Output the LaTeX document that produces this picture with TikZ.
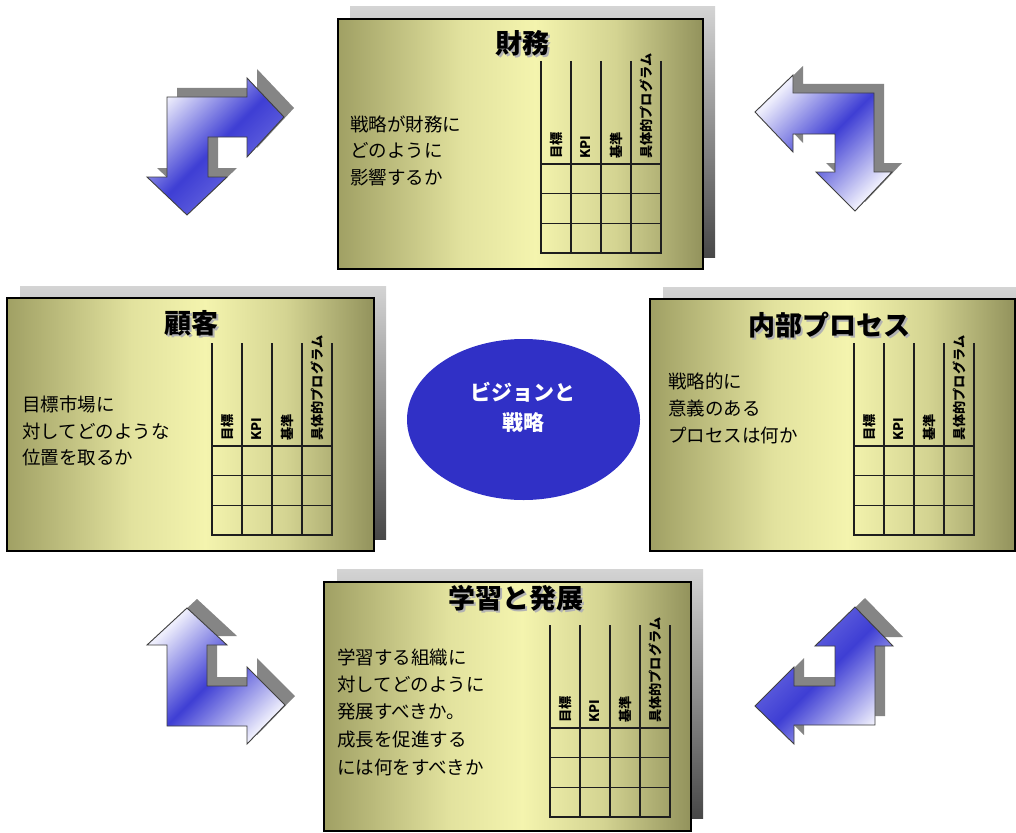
\documentclass[tikz,border=0pt]{standalone}
\usepackage{fontspec}
\setmainfont{Noto Sans CJK JP}
\usetikzlibrary{shapes.geometric}
\definecolor{bxA}{RGB}{160,160,100}
\definecolor{bxB}{RGB}{226,226,158}
\definecolor{bxC}{RGB}{244,244,174}
\definecolor{bxE}{RGB}{212,212,146}
\definecolor{bxD}{RGB}{146,146,92}
\definecolor{aLight}{RGB}{238,238,252}
\definecolor{aBlue}{RGB}{62,62,212}
\definecolor{aMid}{RGB}{122,122,228}
\definecolor{vision}{RGB}{48,48,198}
\definecolor{tline}{RGB}{30,30,30}
\pgfdeclarehorizontalshading{boxshade}{100bp}{color(0bp)=(bxA); color(25bp)=(bxA); color(42bp)=(bxB); color(52bp)=(bxC); color(63bp)=(bxE); color(75bp)=(bxD); color(100bp)=(bxD)}
\pgfdeclarehorizontalshading{arrA}{100bp}{color(0bp)=(aLight); color(25bp)=(aLight); color(50bp)=(aBlue); color(75bp)=(aMid); color(100bp)=(aMid)}
\pgfdeclarehorizontalshading{arrB}{100bp}{color(0bp)=(aLight); color(25bp)=(aLight); color(50bp)=(aBlue); color(75bp)=(aLight); color(100bp)=(aLight)}
\pgfdeclarehorizontalshading{arrC}{100bp}{color(0bp)=(aMid); color(25bp)=(aMid); color(50bp)=(aBlue); color(75bp)=(aLight); color(100bp)=(aLight)}
\tikzset{
  pbox/.style={shade, shading=boxshade, draw=black, line width=1.3pt},
  pshadow/.style={top color=black!17, bottom color=black!72},
  ashadow/.style={fill=black!48},
  arr/.style={shade, shading angle=-45, draw=black!75, line width=0.9pt},
  ttl/.style={font=\fontsize{27}{32}\selectfont\bfseries, inner sep=0pt},
  ttlsh/.style={ttl, text=black!30},
  body/.style={font=\fontsize{18.5}{27}\selectfont, inner sep=0pt, anchor=west},
  hdr/.style={font=\fontsize{13.2}{15}\selectfont\bfseries, inner sep=0pt, rotate=90, anchor=west},
  tl/.style={draw=tline, line width=1.6pt},
}
\newcommand\bsctable[4]{%
  \foreach \i in {0,...,4} \draw[tl] ({#2+30*\i},{#4-103}) -- ({#2+30*\i},{#4+89});
  \foreach \j in {0,...,3} \draw[tl] ({#2-0.8},{#4+29.67*\j}) -- ({#2+120.8},{#4+29.67*\j});
  \node[hdr] (#1h1) at ({#2+15},{#4-5}) {目標};
  \node[hdr] (#1h2) at ({#2+45},{#4-5}) {KPI};
  \node[hdr] (#1h3) at ({#2+75},{#4-5}) {基準};
  \node[hdr] (#1h4) at ({#2+105},{#4-5}) {具体的プログラム};
}
\newcommand\arrTL{(284,117) -- (247,78) -- (247,97) -- (167,97) -- (167,177) -- (147,177) -- (187,215) -- (227,177) -- (208,177) -- (208,137) -- (247,137) -- (247,157) -- cycle}
\newcommand\arrTR{(755,112) -- (793,75) -- (793,93) -- (874,93) -- (874,172) -- (892,172) -- (855,211) -- (816,172) -- (835,172) -- (835,134) -- (793,134) -- (793,152) -- cycle}
\newcommand\arrBL{(187,608) -- (227,645) -- (207,645) -- (207,686) -- (247,686) -- (247,667) -- (285,705) -- (247,744) -- (247,726) -- (167,726) -- (167,645) -- (147,645) -- cycle}
\newcommand\arrBR{(855,607) -- (893,646) -- (875,646) -- (875,725) -- (794,725) -- (794,744) -- (755,706) -- (794,667) -- (794,686) -- (835,686) -- (835,646) -- (815,646) -- cycle}
\begin{document}
\begin{tikzpicture}[x=1pt,y=-1pt]
\useasboundingbox (0,0) rectangle (1016,832);
\clip (0,0) rectangle (1016,832);
\fill[white] (0,0) rectangle (1016,832);

% ---- corner arrows ----
\fill[ashadow, shift={(10,-9)}] \arrTL;
\path[arr, shading=arrA] \arrTL;
\fill[ashadow, shift={(10,-9)}] \arrTR;
\path[arr, shading=arrB] \arrTR;
\fill[ashadow, shift={(10,-9)}] \arrBL;
\path[arr, shading=arrB] \arrBL;
\fill[ashadow, shift={(10,-9)}] \arrBR;
\path[arr, shading=arrC] \arrBR;

% ---- top box: finance ----
\shade[pshadow] (350,7) rectangle (715,257);
\draw[pbox] (338,19) rectangle (703,269);
\node[ttlsh] (fin-s) at (524,45) {財務};
\node[ttl] (fin) at (522,43) {財務};
\foreach \t [count=\i] in {戦略が財務に,どのように,影響するか}
  \node[body] (fin-t\i) at (350,{124+(\i-1)*26.5}) {\t};
\bsctable{fin}{541}{61}{164}

% ---- left box: customer ----
\shade[pshadow] (20,286) rectangle (386,539);
\draw[pbox] (7,298) rectangle (374,551);
\node[ttlsh] (cus-s) at (193,325) {顧客};
\node[ttl] (cus) at (191,323) {顧客};
\foreach \t [count=\i] in {目標市場に,対してどのような,位置を取るか}
  \node[body] (cus-t\i) at (22,{404+(\i-1)*27}) {\t};
\bsctable{cus}{212}{343}{446}

% ---- right box: internal process ----
\shade[pshadow] (663,287) rectangle (1030,539);
\draw[pbox] (650,299) rectangle (1015,551);
\node[ttlsh] (int-s) at (831,327) {内部プロセス};
\node[ttl] (int) at (829,325) {内部プロセス};
\foreach \t [count=\i] in {戦略的に,意義のある,プロセスは何か}
  \node[body] (int-t\i) at (668,{381+(\i-1)*27}) {\t};
\bsctable{int}{854}{343}{446}

% ---- bottom box: learning & growth ----
\shade[pshadow] (337,569) rectangle (703,818);
\draw[pbox] (324,582) rectangle (691,831);
\node[ttlsh] (lrn-s) at (518,600) {学習と発展};
\node[ttl] (lrn) at (516,598) {学習と発展};
\foreach \t [count=\i] in {学習する組織に,対してどのように,発展すべきか。,成長を促進する,には何をすべきか}
  \node[body] (lrn-t\i) at (337,{657+(\i-1)*27.5}) {\t};
\bsctable{lrn}{550}{623}{728}

% ---- centre ----
\node[ellipse, fill=vision, minimum width=233pt, minimum height=161pt, inner sep=0pt] (vision) at (523.5,419.5) {};
\node[align=center, text=white, font=\fontsize{21}{30}\selectfont\bfseries, inner sep=0pt] (vision-t) at (523,407) {ビジョンと\\戦略};
\end{tikzpicture}
\end{document}
